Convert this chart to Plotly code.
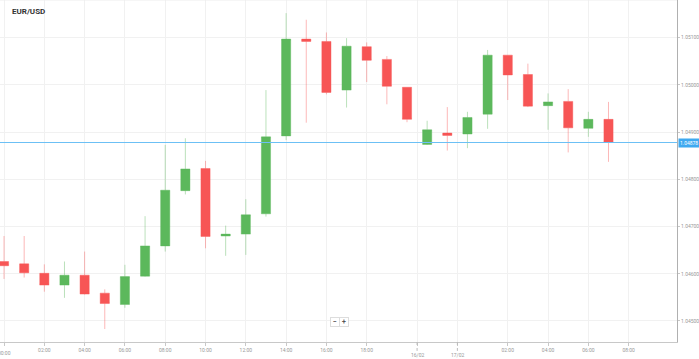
import plotly.graph_objects as go

# ---- data (hourly EUR/USD candles) ----
opens = [1.04626, 1.04621, 1.04601, 1.04576, 1.04597, 1.04559, 1.04535, 1.04595,
         1.04659, 1.04776, 1.04823, 1.04680, 1.04684, 1.04727, 1.04892, 1.05097,
         1.05092, 1.04989, 1.05081, 1.05054, 1.04995, 1.04874, 1.04898, 1.04896,
         1.04938, 1.05063, 1.05022, 1.04956, 1.04965, 1.04908, 1.04927]
highs = [1.04680, 1.04680, 1.04620, 1.04626, 1.04647, 1.04567, 1.04619, 1.04722,
         1.04873, 1.04887, 1.04839, 1.04702, 1.04758, 1.04989, 1.05152, 1.05138,
         1.05111, 1.05099, 1.05090, 1.05061, 1.04995, 1.04924, 1.04953, 1.04943,
         1.05074, 1.05063, 1.05045, 1.04982, 1.04991, 1.04943, 1.04964]
lows = [1.04589, 1.04592, 1.04562, 1.04549, 1.04556, 1.04483, 1.04528, 1.04594,
        1.04647, 1.04768, 1.04654, 1.04638, 1.04640, 1.04721, 1.04883, 1.04920,
        1.04980, 1.04952, 1.05006, 1.04959, 1.04921, 1.04873, 1.04861, 1.04866,
        1.04907, 1.04968, 1.04953, 1.04905, 1.04857, 1.04890, 1.04837]
closes = [1.04617, 1.04602, 1.04576, 1.04597, 1.04557, 1.04537, 1.04594, 1.04659,
          1.04777, 1.04822, 1.04679, 1.04684, 1.04725, 1.04890, 1.05097, 1.05092,
          1.04984, 1.05082, 1.05052, 1.04997, 1.04927, 1.04905, 1.04893, 1.04931,
          1.05063, 1.05021, 1.04955, 1.04964, 1.04909, 1.04927, 1.04878]

x_tick_positions = [0, 2, 4, 6, 8, 10, 12, 14, 16, 18, 20.5, 22.5, 25, 27, 29, 31]
x_tick_labels = ["00:00", "02:00", "04:00", "06:00", "08:00", "10:00", "12:00",
                 "14:00", "16:00", "18:00", "", "",
                 "02:00", "04:00", "06:00", "08:00"]
date_tick_positions = [20.5, 22.5]
date_tick_labels = ["16/02", "17/02"]
y_tick_values = [1.045, 1.046, 1.047, 1.048, 1.049, 1.050, 1.051]
current_price = closes[-1]
title_text = "EUR/USD"

x = list(range(len(opens)))

GREEN = "#5cb85c"
RED = "#f75555"

fig = go.Figure()
fig.add_trace(go.Candlestick(
    x=x, open=opens, high=highs, low=lows, close=closes,
    increasing=dict(fillcolor=GREEN, line=dict(color="rgba(92,184,92,0.42)", width=1)),
    decreasing=dict(fillcolor=RED, line=dict(color="rgba(247,85,85,0.42)", width=1)),
    showlegend=False, hoverinfo="skip",
))

grid = "#f1f1f1"
tickfont = dict(family="Roboto", size=5, color="#999999")
# first tick label is drawn as annotation so it is cut at the left edge like the original
axis_labels = [""] + x_tick_labels[1:]
fig.update_layout(
    width=699, height=359,
    margin=dict(l=0, r=22, t=0, b=17),
    paper_bgcolor="white", plot_bgcolor="white",
    boxgap=0.35,
    xaxis=dict(
        range=[-0.2, 33.4], rangeslider=dict(visible=False), automargin=False,
        tickmode="array", tickvals=x_tick_positions, ticktext=axis_labels,
        showgrid=True, gridcolor=grid, gridwidth=1,
        showline=True, linecolor="#c8c8c8", linewidth=1,
        ticks="outside", ticklen=3, tickcolor="#c8c8c8",
        tickfont=tickfont, zeroline=False, fixedrange=True,
    ),
    yaxis=dict(
        side="right", range=[1.044555, 1.051798], automargin=False,
        tickmode="array", tickvals=y_tick_values,
        ticktext=[f"{v:.5f}" for v in y_tick_values],
        showgrid=True, gridcolor=grid, gridwidth=1,
        showline=True, linecolor="#b0b0b0", linewidth=1,
        ticks="outside", ticklen=2, tickcolor="#c8c8c8",
        tickfont=tickfont, zeroline=False, fixedrange=True,
    ),
    font=dict(family="Roboto"),
)

fig.add_annotation(xref="x", yref="paper", x=x_tick_positions[0], y=-6 / 342,
                   xanchor="center", yanchor="top", text=x_tick_labels[0],
                   showarrow=False, font=tickfont)

# top frame line
fig.add_shape(type="line", xref="paper", yref="paper", x0=0, x1=1, y0=1, y1=1,
              line=dict(color="#eeeeee", width=1))

# dashed date tick extensions + date labels
for p, lbl in zip(date_tick_positions, date_tick_labels):
    fig.add_shape(type="line", xref="x", yref="paper", x0=p, x1=p, y0=0, y1=-0.026,
                  line=dict(color="#bbbbbb", width=1, dash="dot"))
    fig.add_annotation(xref="x", yref="paper", x=p, y=-13 / 342, xanchor="center",
                       yanchor="middle", text=lbl, showarrow=False, font=tickfont)

# current price line + label
fig.add_shape(type="line", xref="paper", yref="y", x0=0, x1=1,
              y0=current_price, y1=current_price,
              line=dict(color="#6cc0f5", width=1))
fig.add_annotation(xref="paper", yref="y", x=1.0, y=current_price, xanchor="left",
                   yanchor="middle", text=f"{current_price:.5f}", showarrow=False,
                   font=dict(family="Roboto", size=5, color="white"),
                   bgcolor="#3fa9f0", borderpad=1, xshift=1)

# title
fig.add_annotation(xref="paper", yref="paper", x=0.0148, y=0.965, xanchor="left",
                   yanchor="middle", text=f"<b>{title_text}</b>", showarrow=False,
                   font=dict(family="Roboto", size=8, color="#333333"))

# zoom buttons
for lbl, px in (("−", 335), ("+", 344)):
    fig.add_annotation(xref="paper", yref="paper", x=px / 677, y=1 - 322 / 342,
                       xanchor="center", yanchor="middle", text=f"<b>{lbl}</b>",
                       showarrow=False, font=dict(family="Roboto", size=7, color="#555555"),
                       bordercolor="#dddddd", borderwidth=1, borderpad=1, bgcolor="white",
                       width=6, height=6)

fig.write_html("out.html", config={"displayModeBar": False},
               post_script="document.body.style.margin='0';document.body.style.overflow='hidden';")
